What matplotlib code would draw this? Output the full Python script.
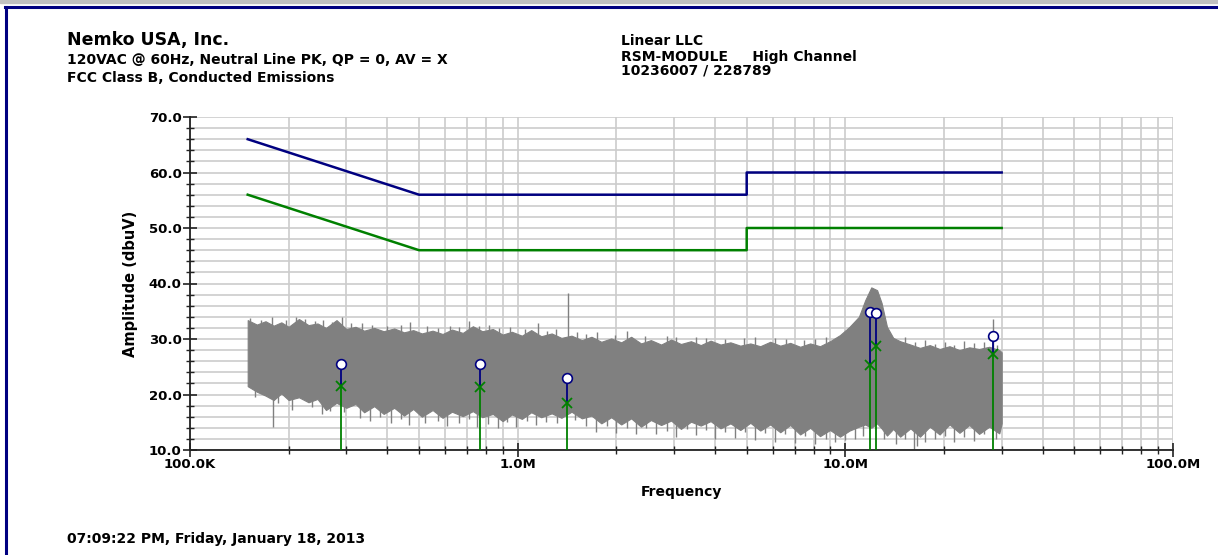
import matplotlib
matplotlib.use("Agg")
import matplotlib.pyplot as plt
from matplotlib.lines import Line2D
from matplotlib.patches import Rectangle
from matplotlib.ticker import FixedLocator, FixedFormatter, NullFormatter

plt.rcParams['font.family'] = ['DejaVu Sans']
plt.rcParams['font.weight'] = 'bold'

# scan trace: frequency (MHz) with upper / lower edge of the noise band (dBuV)
scan_f = [0.15, 0.16, 0.17, 0.18, 0.19, 0.20, 0.215, 0.23, 0.245, 0.26, 0.28, 0.30,
          0.32, 0.34, 0.365, 0.39, 0.42, 0.45, 0.48, 0.51, 0.55, 0.59, 0.63, 0.68,
          0.73, 0.78, 0.84, 0.90, 0.96, 1.03, 1.10, 1.18, 1.27, 1.36, 1.46, 1.57,
          1.68, 1.80, 1.93, 2.07, 2.22, 2.38, 2.55, 2.74, 2.94, 3.15, 3.38, 3.62,
          3.88, 4.16, 4.46, 4.78, 5.13, 5.50, 5.90, 6.33, 6.79, 7.28, 7.81, 8.37,
          8.98, 9.63, 10.3, 11.0, 11.5, 12.0, 12.5, 12.9, 13.4, 14.0, 14.7, 15.8,
          16.9, 18.1, 19.4, 20.8, 22.3, 23.9, 25.6, 27.5, 29.5, 30.0]
scan_hi = [33.4, 32.6, 33.2, 32.4, 33.0, 32.2, 33.6, 32.5, 32.8, 32.0, 33.4, 31.8,
           32.2, 31.5, 32.0, 31.4, 31.9, 31.2, 31.6, 31.0, 31.5, 30.9, 31.7, 31.1,
           32.3, 31.4, 31.8, 30.8, 31.3, 30.6, 31.6, 30.5, 31.0, 30.2, 30.6, 29.8,
           30.4, 29.5, 30.1, 29.4, 30.4, 29.2, 29.8, 29.0, 29.9, 29.1, 29.6, 28.9,
           29.7, 29.0, 29.4, 28.8, 29.2, 28.7, 29.5, 28.8, 29.3, 28.6, 29.2, 28.7,
           29.6, 30.7, 32.2, 34.0, 37.0, 39.3, 38.8, 36.5, 32.2, 30.2, 29.6, 29.0,
           28.4, 28.9, 28.2, 28.7, 28.0, 28.5, 28.2, 28.6, 28.0, 27.6]
scan_lo = [21.5, 20.5, 19.8, 19.0, 20.2, 19.0, 19.5, 18.6, 19.2, 17.2, 18.5, 17.6,
           18.3, 16.8, 17.9, 16.5, 17.6, 16.2, 17.4, 16.0, 17.2, 15.8, 16.9, 16.1,
           17.0, 15.9, 16.5, 15.2, 16.4, 15.6, 16.8, 15.9, 16.6, 15.8, 16.9, 15.7,
           16.2, 14.8, 15.9, 14.6, 15.7, 14.2, 15.4, 14.5, 15.3, 13.8, 15.1, 14.4,
           15.2, 13.9, 14.8, 13.6, 14.9, 13.5, 14.6, 13.2, 14.5, 12.8, 14.0, 12.5,
           13.6, 12.4, 13.5, 14.2, 14.6, 14.0, 14.8, 13.9, 12.6, 13.8, 12.4, 13.9,
           12.4, 14.2, 12.8, 14.6, 13.1, 14.5, 12.9, 14.2, 13.0, 14.8]

# narrow spikes sticking out of the band: tips above / below
up_f = [0.152, 0.165, 0.178, 0.196, 0.21, 0.225, 0.24, 0.255, 0.272, 0.29, 0.31,
        0.335, 0.36, 0.40, 0.44, 0.47, 0.53, 0.57, 0.62, 0.66, 0.71, 0.76, 0.82,
        0.88, 0.95, 1.05, 1.15, 1.23, 1.31, 1.42, 1.52, 1.62, 1.75, 1.98, 2.15,
        2.45, 2.85, 3.05, 3.5, 3.75, 4.3, 4.9, 5.3, 6.1, 6.6, 7.5, 8.1, 8.7, 15.2,
        16.3, 17.5, 18.8, 20.1, 21.5, 23.1, 24.7, 26.5, 28.3, 29.0]
up_tip = [33.8, 33.5, 33.9, 33.4, 34.0, 33.6, 33.2, 33.5, 33.0, 34.0, 32.8,
          32.9, 32.6, 32.4, 32.5, 33.0, 32.3, 32.0, 32.4, 32.2, 33.2, 32.3, 32.6,
          31.9, 32.1, 31.8, 32.8, 31.5, 31.8, 38.3, 31.2, 30.9, 31.2, 30.8, 31.5,
          30.6, 30.5, 30.3, 30.4, 30.2, 30.0, 30.1, 30.4, 30.2, 30.0, 29.8, 30.0, 30.3, 30.3,
          29.4, 29.8, 29.1, 29.5, 29.0, 29.6, 29.2, 29.4, 33.6, 28.9]
dn_f = [0.158, 0.179, 0.185, 0.205, 0.235, 0.252, 0.268, 0.295, 0.33, 0.355, 0.38,
        0.41, 0.44, 0.465, 0.52, 0.57, 0.61, 0.66, 0.71, 0.75, 0.81, 0.87, 0.93,
        0.99, 1.07, 1.14, 1.22, 1.32, 1.5, 1.62, 1.74, 1.87, 2.0, 2.15, 2.3, 2.47,
        2.65, 2.85, 3.05, 3.28, 3.5, 3.75, 4.0, 4.3, 4.6, 4.95, 5.3, 5.7, 6.1,
        6.55, 7.0, 7.55, 8.1, 8.7, 9.3, 10.0, 10.7, 11.3, 13.1, 14.3, 15.2, 16.2,
        16.5, 17.5, 18.8, 20.1, 21.5, 23.1, 24.7, 26.5, 28.8]
dn_tip = [19.5, 14.2, 18.5, 17.2, 17.8, 16.5, 17.0, 16.8, 15.8, 15.2, 16.0,
          14.8, 15.5, 14.5, 14.9, 15.2, 14.3, 14.9, 15.6, 14.1, 14.6, 14.0, 15.0,
          14.2, 15.2, 14.5, 15.0, 14.8, 15.4, 14.3, 13.2, 14.3, 13.0, 14.0, 12.8, 14.0,
          12.9, 13.5, 12.4, 13.8, 12.7, 13.6, 12.0, 13.3, 12.1, 13.2, 11.8, 13.0, 11.5,
          12.8, 11.2, 12.6, 11.0, 12.0, 11.5, 11.8, 12.0, 12.6, 11.9, 11.0, 12.0, 10.2,
          10.8, 11.5, 11.9, 12.5, 11.4, 12.3, 11.7, 12.8, 12.0]

# FCC class B limits (QP and AV)
limit_f = [0.15, 0.5, 5.0, 5.0, 30.0]
qp_limit = [66.0, 56.0, 56.0, 60.0, 60.0]
av_limit = [56.0, 46.0, 46.0, 50.0, 50.0]

# measured points: peak (circle) and average (x)
pt_f = [0.289, 0.768, 1.41, 11.9, 12.4, 28.2]
pt_pk = [25.5, 25.5, 23.0, 34.8, 34.6, 30.6]
pt_av = [21.5, 21.3, 18.4, 25.4, 28.7, 27.3]

x_ticks = [0.1, 1.0, 10.0, 100.0]
x_labels = ['100.0K', '1.0M', '10.0M', '100.0M']
y_ticks = [10, 20, 30, 40, 50, 60, 70]

navy = '#000080'
green = '#008000'
gray = '#808080'

fig = plt.figure(figsize=(12.18, 5.55), dpi=100)
ax = fig.add_axes([190 / 1218, 1 - 450 / 555, 983 / 1218, 333 / 555])

ax.fill_between(scan_f, scan_lo, scan_hi, color=gray, lw=0.8, zorder=2)
ax.vlines(up_f, [27.0] * len(up_f), up_tip, color=gray, lw=1.0, zorder=2)
ax.vlines(dn_f, dn_tip, [21.0] * len(dn_f), color=gray, lw=1.0, zorder=2)

ax.plot(limit_f, qp_limit, color=navy, lw=1.8, zorder=3)
ax.plot(limit_f, av_limit, color=green, lw=1.8, zorder=3)

ax.vlines(pt_f, [10] * len(pt_f), pt_av, color=green, lw=1.3, zorder=4)
ax.vlines(pt_f, pt_av, pt_pk, color=navy, lw=1.3, zorder=4)
ax.plot(pt_f, pt_av, 'x', color=green, ms=7, mew=1.3, zorder=5)
ax.plot(pt_f, pt_pk, 'o', mfc='white', mec=navy, ms=7, mew=1.2, zorder=6)

ax.set_xscale('log')
ax.set_xlim(0.1, 100.0)
ax.set_ylim(10, 70)

ax.xaxis.set_major_locator(FixedLocator(x_ticks))
ax.xaxis.set_major_formatter(FixedFormatter(x_labels))
minor_x = [m * d for d in (0.1, 1.0, 10.0) for m in range(2, 10)]
ax.xaxis.set_minor_locator(FixedLocator(minor_x))
ax.xaxis.set_minor_formatter(NullFormatter())
ax.set_yticks(y_ticks)
ax.set_yticklabels([f'{v:.1f}' for v in y_ticks])
ax.yaxis.set_minor_locator(FixedLocator([v for v in range(10, 71, 2)]))

ax.grid(True, which='both', color='#cccccc', lw=1.2, zorder=0)
ax.set_axisbelow(True)
for s in ('top', 'right'):
    ax.spines[s].set_visible(False)
for s in ('left', 'bottom'):
    ax.spines[s].set_color('#222222')
    ax.spines[s].set_linewidth(1.3)

ax.tick_params(which='major', direction='inout', length=10, width=1.2,
               labelsize=9.5, colors='#222222', labelcolor='black', pad=1)
ax.tick_params(which='minor', direction='inout', length=6, width=1.0,
               colors='#222222')
for lbl in ax.get_xticklabels() + ax.get_yticklabels():
    lbl.set_fontweight('bold')

ax.set_xlabel('Frequency', fontsize=10, fontweight='bold', labelpad=10)
ax.set_ylabel('Amplitude (dbuV)', fontsize=10.5, fontweight='bold', labelpad=8)

# header and footer text
fig.text(67 / 1218, 1 - 45 / 555, 'Nemko USA, Inc.', fontsize=12.5, fontweight='bold')
fig.text(67 / 1218, 1 - 64 / 555, '120VAC @ 60Hz, Neutral Line PK, QP = 0, AV = X',
         fontsize=10, fontweight='bold')
fig.text(67 / 1218, 1 - 82 / 555, 'FCC Class B, Conducted Emissions',
         fontsize=10, fontweight='bold')
fig.text(621 / 1218, 1 - 45 / 555, 'Linear LLC', fontsize=10, fontweight='bold')
fig.text(621 / 1218, 1 - 60.5 / 555, 'RSM-MODULE     High Channel', fontsize=10,
         fontweight='bold')
fig.text(621 / 1218, 1 - 75 / 555, '10236007 / 228789', fontsize=10,
         fontweight='bold')
fig.text(67 / 1218, 1 - 543 / 555, '07:09:22 PM, Friday, January 18, 2013',
         fontsize=10, fontweight='bold')

# page frame: grey strip on top, navy rule on top and left
fig.patches.append(Rectangle((0, 1 - 2.5 / 555), 1, 2.5 / 555, transform=fig.transFigure,
                             color='#c0c0c0', zorder=0))
fig.lines.append(Line2D([5 / 1218, 1], [1 - 7 / 555, 1 - 7 / 555],
                        transform=fig.transFigure, color=navy, lw=2.2))
fig.lines.append(Line2D([6 / 1218, 6 / 1218], [0, 1 - 7 / 555],
                        transform=fig.transFigure, color=navy, lw=2.2))

fig.savefig('out.png', dpi=100)
